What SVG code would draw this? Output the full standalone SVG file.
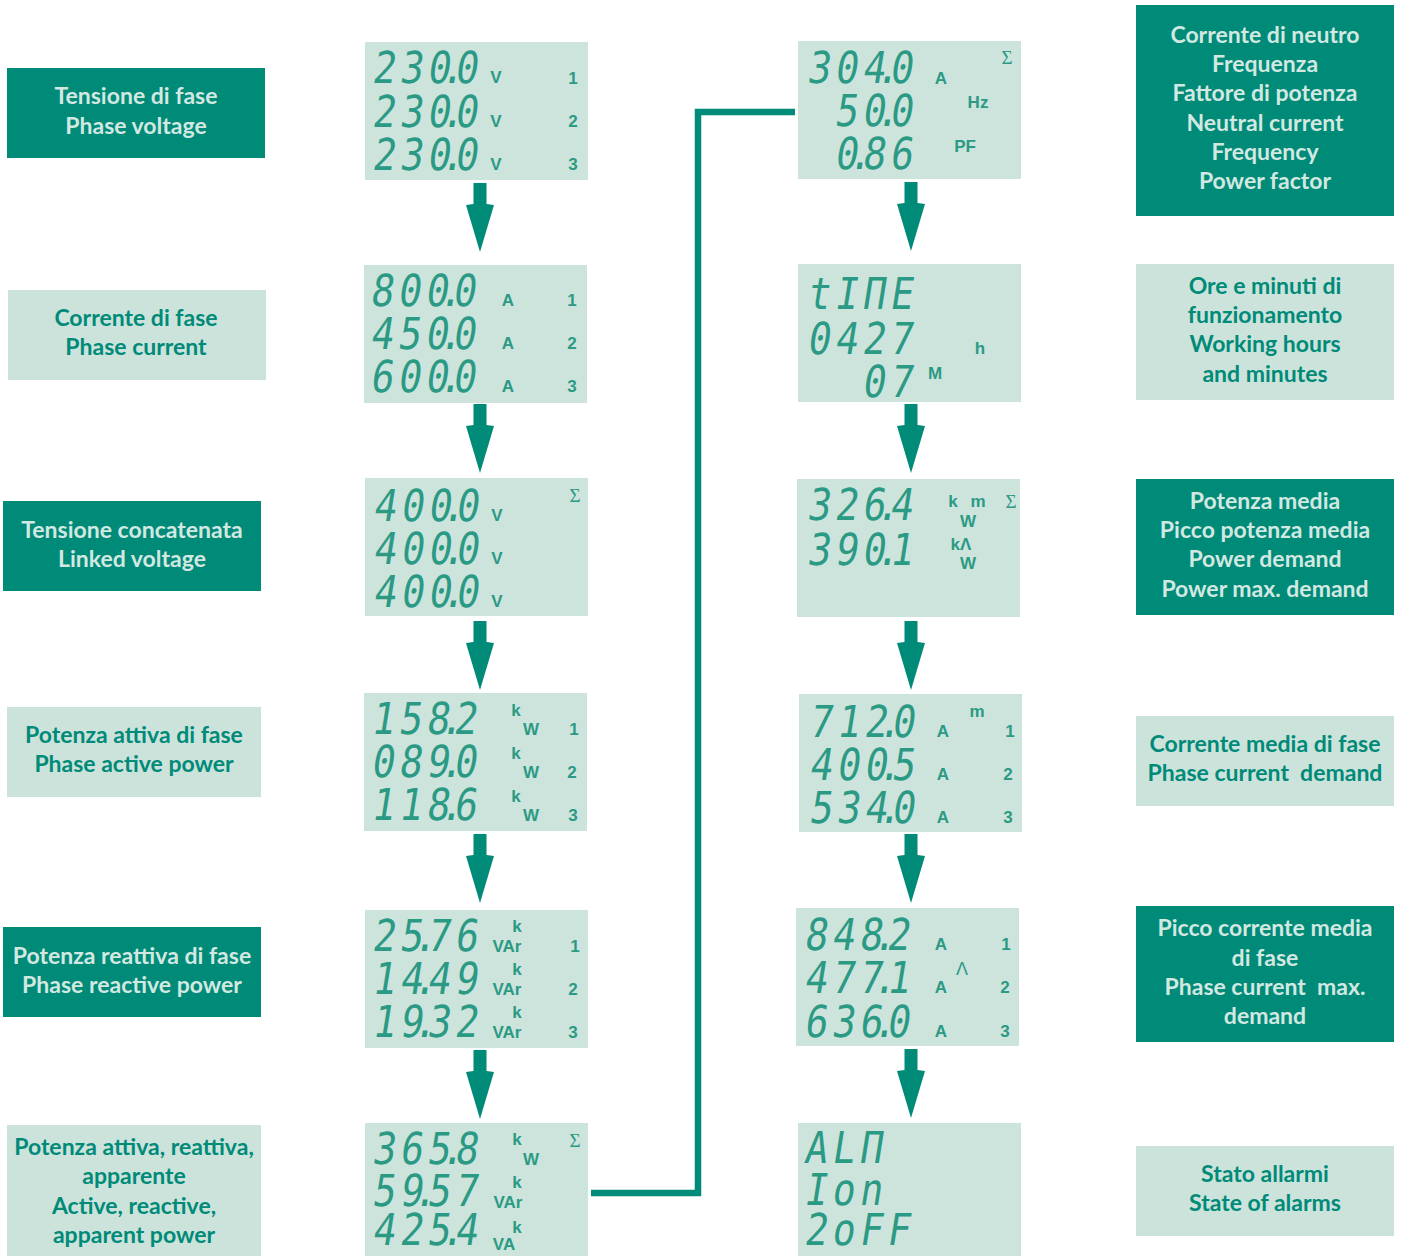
<svg xmlns="http://www.w3.org/2000/svg" width="1404" height="1256" viewBox="0 0 1404 1256">
<style>
.bd{fill:#008a78}
.bl{fill:#cce3dc}
.lcd{fill:#cde4dc}
.t{font-family:Lato,"Liberation Sans",sans-serif;font-weight:700;font-size:23px;text-anchor:middle}
.td{fill:#d2e8e1}
.tl{fill:#008a78}
.d{font-family:"DejaVu Sans Mono",monospace;font-size:44px;fill:#2b9a84;letter-spacing:5.5px}
.u{font-family:"Liberation Sans",Arial,sans-serif;font-weight:700;font-size:17px;fill:#2b9a84;text-anchor:middle}
.s{font-family:"Liberation Serif",serif;font-size:19px;fill:#2b9a84;text-anchor:middle}
.g{font-family:"Liberation Sans",Arial,sans-serif;font-size:18px;fill:#2b9a84;text-anchor:middle}
.arr{fill:#008a78}
.ln{fill:none;stroke:#008a78;stroke-width:6.5}
</style>
<defs>
<path id="arrow" d="M-6.5,0 H6.5 V21 L14,22 L0,69 L-14,22 L-6.5,21 Z"/>
</defs>

<g id="connectors">
<use href="#arrow" class="arr" x="480" y="183"/>
<use href="#arrow" class="arr" x="480" y="404"/>
<use href="#arrow" class="arr" x="480" y="621"/>
<use href="#arrow" class="arr" x="480" y="834"/>
<use href="#arrow" class="arr" x="480" y="1050"/>
<use href="#arrow" class="arr" x="911" y="182"/>
<use href="#arrow" class="arr" x="911" y="404"/>
<use href="#arrow" class="arr" x="911" y="621"/>
<use href="#arrow" class="arr" x="911" y="834"/>
<use href="#arrow" class="arr" x="911" y="1049"/>
<polyline class="ln" points="591,1193 698,1193 698,112 795,112"/>
</g>

<!-- left labels -->
<g id="lbl-l1"><rect class="bd" x="7" y="68" width="258" height="90"/>
<text class="t td" x="136" y="104">Tensione di fase</text><text class="t td" x="136" y="134">Phase voltage</text></g>
<g id="lbl-l2"><rect class="bl" x="8" y="290" width="258" height="90"/>
<text class="t tl" x="136" y="326">Corrente di fase</text><text class="t tl" x="136" y="355">Phase current</text></g>
<g id="lbl-l3"><rect class="bd" x="3" y="501" width="258" height="90"/>
<text class="t td" x="132" y="538">Tensione concatenata</text><text class="t td" x="132" y="567">Linked voltage</text></g>
<g id="lbl-l4"><rect class="bl" x="7" y="707" width="254" height="90"/>
<text class="t tl" x="134" y="743">Potenza attiva di fase</text><text class="t tl" x="134" y="772">Phase active power</text></g>
<g id="lbl-l5"><rect class="bd" x="3" y="927" width="258" height="90"/>
<text class="t td" x="132" y="964">Potenza reattiva di fase</text><text class="t td" x="132" y="993">Phase reactive power</text></g>
<g id="lbl-l6"><rect class="bl" x="7" y="1125" width="254" height="131"/>
<text class="t tl" x="134" y="1155">Potenza attiva, reattiva,</text><text class="t tl" x="134" y="1184">apparente</text><text class="t tl" x="134" y="1214">Active, reactive,</text><text class="t tl" x="134" y="1243">apparent power</text></g>

<!-- right labels -->
<g id="lbl-r1"><rect class="bd" x="1136" y="5" width="258" height="211"/>
<text class="t td" x="1265" y="43">Corrente di neutro</text><text class="t td" x="1265" y="72">Frequenza</text><text class="t td" x="1265" y="101">Fattore di potenza</text><text class="t td" x="1265" y="131">Neutral current</text><text class="t td" x="1265" y="160">Frequency</text><text class="t td" x="1265" y="189">Power factor</text></g>
<g id="lbl-r2"><rect class="bl" x="1136" y="264" width="258" height="136"/>
<text class="t tl" x="1265" y="294">Ore e minuti di</text><text class="t tl" x="1265" y="323">funzionamento</text><text class="t tl" x="1265" y="352">Working hours</text><text class="t tl" x="1265" y="382">and minutes</text></g>
<g id="lbl-r3"><rect class="bd" x="1136" y="479" width="258" height="136"/>
<text class="t td" x="1265" y="509">Potenza media</text><text class="t td" x="1265" y="538">Picco potenza media</text><text class="t td" x="1265" y="567">Power demand</text><text class="t td" x="1265" y="597">Power max. demand</text></g>
<g id="lbl-r4"><rect class="bl" x="1136" y="716" width="258" height="90"/>
<text class="t tl" x="1265" y="752">Corrente media di fase</text><text class="t tl" x="1265" y="781" xml:space="preserve">Phase current  demand</text></g>
<g id="lbl-r5"><rect class="bd" x="1136" y="906" width="258" height="136"/>
<text class="t td" x="1265" y="936">Picco corrente media</text><text class="t td" x="1265" y="966">di fase</text><text class="t td" x="1265" y="995" xml:space="preserve">Phase current  max.</text><text class="t td" x="1265" y="1024">demand</text></g>
<g id="lbl-r6"><rect class="bl" x="1136" y="1146" width="258" height="90"/>
<text class="t tl" x="1265" y="1182">Stato allarmi</text><text class="t tl" x="1265" y="1211">State of alarms</text></g>

<!-- left LCDs -->
<g id="lcd-l1"><rect class="lcd" x="365" y="42" width="223" height="138"/>
<text class="d" transform="translate(371.5,83) skewX(-9) scale(0.86,1)">230<tspan dx="-16">.</tspan><tspan dx="-16">0</tspan></text>
<text class="d" transform="translate(371.5,127) skewX(-9) scale(0.86,1)">230<tspan dx="-16">.</tspan><tspan dx="-16">0</tspan></text>
<text class="d" transform="translate(371.5,170) skewX(-9) scale(0.86,1)">230<tspan dx="-16">.</tspan><tspan dx="-16">0</tspan></text>
<text class="u" x="496" y="83">V</text><text class="u" x="496" y="127">V</text><text class="u" x="496" y="170">V</text>
<text class="u" x="573" y="84">1</text><text class="u" x="573" y="127">2</text><text class="u" x="573" y="170">3</text></g>

<g id="lcd-l2"><rect class="lcd" x="364" y="265" width="223" height="138"/>
<text class="d" transform="translate(369.5,306) skewX(-9) scale(0.86,1)">800<tspan dx="-16">.</tspan><tspan dx="-16">0</tspan></text>
<text class="d" transform="translate(369.5,349) skewX(-9) scale(0.86,1)">450<tspan dx="-16">.</tspan><tspan dx="-16">0</tspan></text>
<text class="d" transform="translate(369.5,392) skewX(-9) scale(0.86,1)">600<tspan dx="-16">.</tspan><tspan dx="-16">0</tspan></text>
<text class="u" x="508" y="306">A</text><text class="u" x="508" y="349">A</text><text class="u" x="508" y="392">A</text>
<text class="u" x="572" y="306">1</text><text class="u" x="572" y="349">2</text><text class="u" x="572" y="392">3</text></g>

<g id="lcd-l3"><rect class="lcd" x="365" y="478" width="223" height="138"/>
<text class="d" transform="translate(372.5,521) skewX(-9) scale(0.86,1)">400<tspan dx="-16">.</tspan><tspan dx="-16">0</tspan></text>
<text class="d" transform="translate(372.5,564) skewX(-9) scale(0.86,1)">400<tspan dx="-16">.</tspan><tspan dx="-16">0</tspan></text>
<text class="d" transform="translate(372.5,607) skewX(-9) scale(0.86,1)">400<tspan dx="-16">.</tspan><tspan dx="-16">0</tspan></text>
<text class="u" x="497" y="521">V</text><text class="u" x="497" y="564">V</text><text class="u" x="497" y="607">V</text>
<text class="s" x="575" y="502">Σ</text></g>

<g id="lcd-l4"><rect class="lcd" x="364" y="693" width="223" height="138"/>
<text class="d" transform="translate(370.5,734) skewX(-9) scale(0.86,1)">158<tspan dx="-16">.</tspan><tspan dx="-16">2</tspan></text>
<text class="d" transform="translate(370.5,777) skewX(-9) scale(0.86,1)">089<tspan dx="-16">.</tspan><tspan dx="-16">0</tspan></text>
<text class="d" transform="translate(370.5,820) skewX(-9) scale(0.86,1)">118<tspan dx="-16">.</tspan><tspan dx="-16">6</tspan></text>
<text class="u" x="516" y="716">k</text><text class="u" x="531" y="735">W</text>
<text class="u" x="516" y="759">k</text><text class="u" x="531" y="778">W</text>
<text class="u" x="516" y="802">k</text><text class="u" x="531" y="821">W</text>
<text class="u" x="574" y="735">1</text><text class="u" x="572" y="778">2</text><text class="u" x="573" y="821">3</text></g>

<g id="lcd-l5"><rect class="lcd" x="365" y="910" width="223" height="138"/>
<text class="d" transform="translate(371.5,951) skewX(-9) scale(0.86,1)">25<tspan dx="-16">.</tspan><tspan dx="-16">76</tspan></text>
<text class="d" transform="translate(371.5,994) skewX(-9) scale(0.86,1)">14<tspan dx="-16">.</tspan><tspan dx="-16">49</tspan></text>
<text class="d" transform="translate(371.5,1037) skewX(-9) scale(0.86,1)">19<tspan dx="-16">.</tspan><tspan dx="-16">32</tspan></text>
<text class="u" x="517" y="932">k</text><text class="u" x="507" y="952">VAr</text>
<text class="u" x="517" y="975">k</text><text class="u" x="507" y="995">VAr</text>
<text class="u" x="517" y="1018">k</text><text class="u" x="507" y="1038">VAr</text>
<text class="u" x="575" y="952">1</text><text class="u" x="573" y="995">2</text><text class="u" x="573" y="1038">3</text></g>

<g id="lcd-l6"><rect class="lcd" x="365" y="1123" width="223" height="133"/>
<text class="d" transform="translate(371.5,1164) skewX(-9) scale(0.86,1)">365<tspan dx="-16">.</tspan><tspan dx="-16">8</tspan></text>
<text class="d" transform="translate(371.5,1206) skewX(-9) scale(0.86,1)">59<tspan dx="-16">.</tspan><tspan dx="-16">57</tspan></text>
<text class="d" transform="translate(371.5,1245) skewX(-9) scale(0.86,1)">425<tspan dx="-16">.</tspan><tspan dx="-16">4</tspan></text>
<text class="u" x="517" y="1145">k</text><text class="u" x="531" y="1165">W</text>
<text class="u" x="517" y="1188">k</text><text class="u" x="508" y="1208">VAr</text>
<text class="u" x="517" y="1233">k</text><text class="u" x="504" y="1250">VA</text>
<text class="s" x="575" y="1147">Σ</text></g>

<!-- right LCDs -->
<g id="lcd-r1"><rect class="lcd" x="798" y="41" width="223" height="138"/>
<text class="d" transform="translate(806.5,83) skewX(-9) scale(0.86,1)">304<tspan dx="-16">.</tspan><tspan dx="-16">0</tspan></text>
<text class="d" transform="translate(834,126) skewX(-9) scale(0.86,1)">50<tspan dx="-16">.</tspan><tspan dx="-16">0</tspan></text>
<text class="d" transform="translate(834,169) skewX(-9) scale(0.86,1)">0<tspan dx="-16">.</tspan><tspan dx="-16">86</tspan></text>
<text class="u" x="941" y="84">A</text><text class="u" x="978" y="108">Hz</text><text class="u" x="965" y="152">PF</text>
<text class="s" x="1007" y="64">Σ</text></g>

<g id="lcd-r2"><rect class="lcd" x="798" y="264" width="223" height="138"/>
<text class="d" transform="translate(806.5,309) skewX(-9) scale(0.86,1)">tIΠE</text>
<text class="d" transform="translate(806.5,354) skewX(-9) scale(0.86,1)">0427</text>
<text class="d" transform="translate(861.5,397) skewX(-9) scale(0.86,1)">07</text>
<text class="u" x="980" y="354">h</text><text class="u" x="935" y="379">M</text></g>

<g id="lcd-r3"><rect class="lcd" x="797" y="479" width="223" height="138"/>
<text class="d" transform="translate(806.5,520) skewX(-9) scale(0.86,1)">326<tspan dx="-16">.</tspan><tspan dx="-16">4</tspan></text>
<text class="d" transform="translate(806.5,565) skewX(-9) scale(0.86,1)">390<tspan dx="-16">.</tspan><tspan dx="-16">1</tspan></text>
<text class="u" x="953" y="507">k</text><text class="u" x="978" y="507">m</text><text class="u" x="968" y="527">W</text>
<text class="u" x="961" y="550">kΛ</text><text class="u" x="968" y="569">W</text>
<text class="s" x="1011" y="508">Σ</text></g>

<g id="lcd-r4"><rect class="lcd" x="799" y="694" width="223" height="138"/>
<text class="d" transform="translate(808.5,737) skewX(-9) scale(0.86,1)">712<tspan dx="-16">.</tspan><tspan dx="-16">0</tspan></text>
<text class="d" transform="translate(808.5,780) skewX(-9) scale(0.86,1)">400<tspan dx="-16">.</tspan><tspan dx="-16">5</tspan></text>
<text class="d" transform="translate(808.5,823) skewX(-9) scale(0.86,1)">534<tspan dx="-16">.</tspan><tspan dx="-16">0</tspan></text>
<text class="u" x="943" y="737">A</text><text class="u" x="943" y="780">A</text><text class="u" x="943" y="823">A</text>
<text class="u" x="977" y="717">m</text>
<text class="u" x="1010" y="737">1</text><text class="u" x="1008" y="780">2</text><text class="u" x="1008" y="823">3</text></g>

<g id="lcd-r5"><rect class="lcd" x="796" y="908" width="223" height="138"/>
<text class="d" transform="translate(803.5,950) skewX(-9) scale(0.86,1)">848<tspan dx="-16">.</tspan><tspan dx="-16">2</tspan></text>
<text class="d" transform="translate(803.5,993) skewX(-9) scale(0.86,1)">477<tspan dx="-16">.</tspan><tspan dx="-16">1</tspan></text>
<text class="d" transform="translate(803.5,1037) skewX(-9) scale(0.86,1)">636<tspan dx="-16">.</tspan><tspan dx="-16">0</tspan></text>
<text class="u" x="941" y="950">A</text><text class="u" x="941" y="993">A</text><text class="u" x="941" y="1037">A</text>
<text class="g" x="962" y="975">Λ</text>
<text class="u" x="1006" y="950">1</text><text class="u" x="1005" y="993">2</text><text class="u" x="1005" y="1037">3</text></g>

<g id="lcd-r6"><rect class="lcd" x="798" y="1123" width="223" height="133"/>
<text class="d" transform="translate(803.5,1163) skewX(-9) scale(0.86,1)">ALΠ</text>
<text class="d" transform="translate(803.5,1205) skewX(-9) scale(0.86,1)">Ion</text>
<text class="d" transform="translate(803.5,1245) skewX(-9) scale(0.86,1)">2oFF</text></g>
</svg>
